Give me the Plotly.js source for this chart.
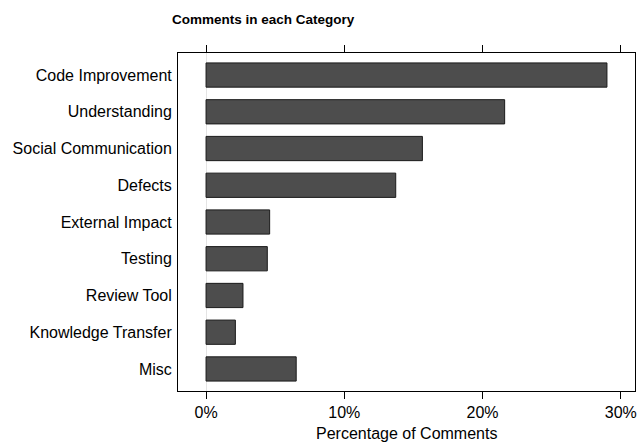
<!DOCTYPE html>
<html>
<head>
<meta charset="utf-8">
<script src="https://cdn.plot.ly/plotly-3.0.1.min.js"></script>
<style>html,body{margin:0;padding:0;background:#fff;}#chart{width:639px;height:445px;}</style>
</head>
<body>
<div id="chart"></div>
<script>
const categories = ["Code Improvement","Understanding","Social Communication","Defects","External Impact","Testing","Review Tool","Knowledge Transfer","Misc"];
const percentages = [29.0, 21.6, 15.65, 13.72, 4.6, 4.43, 2.67, 2.12, 6.52];
const tickValues = [0, 10, 20, 30];
const tickLabels = ["0%","10%","20%","30%"];

const trace = {
  type: 'bar',
  orientation: 'h',
  y: categories,
  x: percentages,
  width: 0.66,
  marker: {color: '#4d4d4d', line: {color: '#1a1a1a', width: 1}},
  hoverinfo: 'x+y'
};

const layout = {
  width: 639, height: 445,
  margin: {l: 178, r: 4, t: 53, b: 54},
  paper_bgcolor: '#fff', plot_bgcolor: '#fff',
  font: {family: 'Liberation Sans, Arial, sans-serif', size: 16, color: '#000'},
  showlegend: false,
  xaxis: {
    range: [-2.03, 31.03],
    tickvals: tickValues, ticktext: tickLabels,
    ticks: 'outside', ticklen: 7, tickcolor: '#000', tickwidth: 1,
    showline: true, linecolor: '#000', linewidth: 1, mirror: 'ticks',
    showgrid: false,
    zeroline: true, zerolinecolor: '#e4e4e4', zerolinewidth: 1,
    tickfont: {size: 16}
  },
  yaxis: {
    type: 'category',
    categoryorder: 'array', categoryarray: categories,
    range: [8.6, -0.6],
    showline: true, linecolor: '#000', linewidth: 1, mirror: true,
    ticks: '', showgrid: false, zeroline: false,
    ticklabelstandoff: 2,
    tickfont: {size: 16}
  },
  annotations: [
    {text: '<b>Comments in each Category</b>', xref: 'paper', yref: 'paper', x: 0.188, y: 1, xanchor: 'center', yanchor: 'middle', yshift: 34, showarrow: false, font: {size: 13.5}},
    {text: 'Percentage of Comments', xref: 'paper', yref: 'paper', x: 0.5, y: 0, xanchor: 'center', yanchor: 'middle', yshift: -42, showarrow: false, font: {size: 16}}
  ]
};

Plotly.newPlot('chart', [trace], layout, {displayModeBar: false, staticPlot: true});
</script>
</body>
</html>
